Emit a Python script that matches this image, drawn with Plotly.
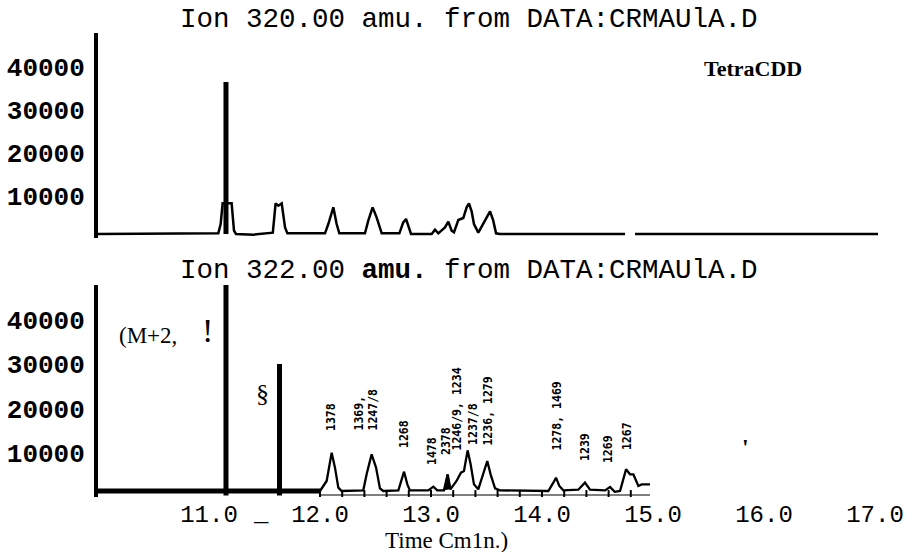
import plotly.graph_objects as go

# ---------------- data ----------------
time_ticks = [11.0, 12.0, 13.0, 14.0, 15.0, 16.0, 17.0]
time_tick_labels = ["11.0", "12.0", "13.0", "14.0", "15.0", "16.0", "17.0"]
abund_ticks = [10000, 20000, 30000, 40000]
abund_tick_labels = ["10000", "20000", "30000", "40000"]

# Ion 320.00 chromatogram (time in min, abundance)
ion320_time = [10.0, 11.084, 11.105, 11.120, 11.123, 11.204, 11.210, 11.225, 11.243,
               11.40, 11.575, 11.600, 11.625, 11.655, 11.685, 11.706,
               12.045, 12.075, 12.120, 12.150, 12.174,
               12.405, 12.435, 12.474, 12.510, 12.556,
               12.715, 12.750, 12.775, 12.800, 12.820,
               13.006, 13.036, 13.066, 13.126, 13.156, 13.186, 13.207,
               13.246, 13.291, 13.321, 13.342, 13.366, 13.387, 13.426,
               13.486, 13.532, 13.561, 13.586, 13.620, 14.748,
               None, 14.838, 17.027]
ion320_abund = [0, 155, 2325, 6600, 7130, 7130, 4650, 775, 0,
                -150, 300, 7130, 6590, 7130, 1550, 155,
                155, 2325, 6200, 2325, 155,
                155, 3100, 6200, 3875, 155,
                155, 2710, 3490, 1550, 0,
                0, 1010, 155, 1550, 2870, 775, 390,
                3255, 3720, 6200, 7130, 5270, 2325, 310,
                3100, 5270, 3100, 155, 0, 0,
                None, 0, 0]

# Ion 322.00 chromatogram
ion322_time = [12.0, 12.060, 12.105, 12.135, 12.165, 12.195,
               12.390, 12.420, 12.465, 12.505, 12.540, 12.570,
               12.706, 12.730, 12.757, 12.787, 12.810,
               12.976, 13.021, 13.057, 13.117, 13.150, 13.175,
               13.230, 13.270, 13.297, 13.330, 13.357, 13.387, 13.426,
               13.471, 13.507, 13.537, 13.577, 13.620,
               14.057, 14.102, 14.126, 14.156, 14.192,
               14.327, 14.387, 14.432, 14.568, 14.613, 14.655, 14.703,
               14.757, 14.793, 14.823, 14.868, 14.898, 14.973]
ion322_abund = [0, 2260, 8650, 5270, 750, 0,
                150, 3760, 8280, 5270, 600, 0,
                150, 2260, 4360, 1500, 150,
                150, 980, 150, 150, 3760, 380,
                2260, 4140, 4510, 9180, 6020, 1500, 380,
                3760, 6770, 3760, 600, 150,
                0, 1880, 3010, 1130, 150,
                300, 1880, 300, 150, 900, -200, 0,
                4890, 3760, 3760, 1130, 1500, 1500]

# filled (black) peak in Ion 322 trace
filled_peak_time = [13.117, 13.150, 13.175]
filled_peak_abund = [150, 3760, 380]

# vertical marker bars (time, height)
top_bar_time = [11.153]
top_bar_height = [35350]
bottom_bar_time = [11.153, 11.635]
bottom_bar_height = [46500, 28670]

# thick baseline segment of Ion 322 panel
thick_base_time = [10.0, 12.0]
thick_base_abund = [0, 0]

# scanned time-axis ticks under Ion 322 peaks
scan_axis_time = [12.0, 14.973]
scan_tick_time = [12.0, 12.2, 12.4, 12.6, 12.8, 13.0, 13.2, 13.4, 13.6, 13.8,
                  14.0, 14.2, 14.4, 14.6, 14.8]

# peak labels (congener numbers)
peak_labels = ["1378", "1369,<br>1247/8", "1268", "1478", "2378", "1246/9, 1234",
               "1237/8", "1236, 1279", "1278, 1469", "1239", "1269", "1267"]
peak_label_time = [12.099, 12.41, 12.757, 13.009, 13.135, 13.234,
                   13.378, 13.514, 14.135, 14.387, 14.595, 14.766]
peak_label_abund = [13090, 13090, 9255, 5420, 7670, 8800,
                    9930, 9710, 8800, 6320, 5870, 8800]

# ---------------- figure ----------------
W, H = 920, 552


def fy(ypix):
    return (H - ypix) / H


def fx(xpix):
    return (xpix - 98) / 780


BLACK = "#000000"
fig = go.Figure()

# top panel (xaxis2 / yaxis2)
fig.add_trace(go.Scatter(x=ion320_time, y=ion320_abund, mode="lines",
                         line=dict(color=BLACK, width=2.5), connectgaps=False,
                         xaxis="x2", yaxis="y2", hoverinfo="skip"))
for t, h in zip(top_bar_time, top_bar_height):
    fig.add_trace(go.Scatter(x=[t, t], y=[0, h], mode="lines",
                             line=dict(color=BLACK, width=5),
                             xaxis="x2", yaxis="y2", hoverinfo="skip"))

# bottom panel (xaxis / yaxis)
fig.add_trace(go.Scatter(x=scan_axis_time, y=[-900, -900], mode="lines",
                         line=dict(color=BLACK, width=1.2), hoverinfo="skip"))
fig.add_trace(go.Scatter(x=scan_tick_time, y=[-900] * len(scan_tick_time), mode="markers",
                         marker=dict(symbol="line-ns", size=7,
                                     line=dict(color=BLACK, width=2)),
                         hoverinfo="skip"))
fig.add_trace(go.Scatter(x=thick_base_time, y=thick_base_abund, mode="lines",
                         line=dict(color=BLACK, width=5), hoverinfo="skip"))
fig.add_trace(go.Scatter(x=ion322_time, y=ion322_abund, mode="lines",
                         line=dict(color=BLACK, width=2.3), hoverinfo="skip"))
fig.add_trace(go.Scatter(x=filled_peak_time, y=filled_peak_abund, mode="lines",
                         fill="toself", fillcolor=BLACK,
                         line=dict(color=BLACK, width=1.5), hoverinfo="skip"))
for t, h in zip(bottom_bar_time, bottom_bar_height):
    fig.add_trace(go.Scatter(x=[t, t], y=[-1000, h], mode="lines",
                             line=dict(color=BLACK, width=5), hoverinfo="skip"))

mono_bold = dict(family="Liberation Mono, Courier New, monospace", size=26,
                 color=BLACK, weight="bold")
mono = dict(family="Liberation Mono, Courier New, monospace", size=24, color=BLACK)
serif = "Liberation Serif, Times New Roman, serif"

annotations = []
for txt, t, v in zip(peak_labels, peak_label_time, peak_label_abund):
    annotations.append(dict(x=t, y=v, xref="x", yref="y", text=txt, showarrow=False,
                            textangle=-90, xanchor="center", yanchor="bottom",
                            align="left",
                            font=dict(family="DejaVu Sans Mono, monospace", size=11.5,
                                      color=BLACK, weight="bold")))

annotations += [
    dict(x=fx(469), y=fy(19), xref="paper", yref="paper",
         text="Ion 320.00 amu. from DATA:CRMAUlA.D", showarrow=False,
         xanchor="center", yanchor="middle",
         font=dict(family="Liberation Mono, Courier New, monospace", size=27.5, color=BLACK)),
    dict(x=fx(469), y=fy(270), xref="paper", yref="paper",
         text="Ion 322.00 <b>amu.</b> from DATA:CRMAUlA.D", showarrow=False,
         xanchor="center", yanchor="middle",
         font=dict(family="Liberation Mono, Courier New, monospace", size=27.5, color=BLACK)),
    dict(x=fx(753), y=fy(68), xref="paper", yref="paper",
         text="<b>TetraCDD</b>", showarrow=False, xanchor="center", yanchor="middle",
         font=dict(family=serif, size=22, color=BLACK)),
    dict(x=fx(446), y=fy(540), xref="paper", yref="paper",
         text="Time Cm1n.)", showarrow=False, xanchor="center", yanchor="middle",
         font=dict(family=serif, size=23, color=BLACK)),
    dict(x=fx(261), y=fy(514), xref="paper", yref="paper",
         text="_", showarrow=False, xanchor="center", yanchor="middle", font=mono),
    dict(x=10.45, y=35210, xref="x", yref="y", text="(M+2,", showarrow=False,
         xanchor="center", yanchor="middle", font=dict(family=serif, size=23, color=BLACK)),
    dict(x=10.99, y=36340, xref="x", yref="y", text="!", showarrow=False,
         xanchor="center", yanchor="middle", font=dict(family=serif, size=34, color=BLACK)),
    dict(x=11.486, y=21900, xref="x", yref="y", text="§", showarrow=False,
         xanchor="center", yanchor="middle", font=dict(family=serif, size=26, color=BLACK)),
    dict(x=15.83, y=9930, xref="x", yref="y", text="<b>'</b>", showarrow=False,
         xanchor="center", yanchor="middle", font=dict(family=serif, size=24, color=BLACK)),
]

fig.update_layout(
    width=W, height=H,
    margin=dict(l=98, r=W - 98 - 780, t=0, b=0, autoexpand=False),
    paper_bgcolor="white", plot_bgcolor="white",
    showlegend=False,
    annotations=annotations,
    xaxis=dict(domain=[0, 1], anchor="y", range=[10.0, 17.027], automargin=False,
               tickvals=time_ticks, ticktext=time_tick_labels, tickfont=mono,
               showgrid=False, zeroline=False, showline=False, ticks=""),
    yaxis=dict(domain=[fy(497), fy(285)], anchor="x",
               range=[-1354, 46501], automargin=False,
               tickvals=abund_ticks, ticktext=abund_tick_labels, tickfont=mono_bold,
               showgrid=False, zeroline=False, showline=True, linewidth=4,
               linecolor=BLACK, ticks="", ticklabelshift=6, ticklabelstandoff=4),
    xaxis2=dict(domain=[0, 1], anchor="y2", range=[10.0, 17.027], matches="x",
                automargin=False,
                showticklabels=False, showgrid=False, zeroline=False,
                showline=False, ticks=""),
    yaxis2=dict(domain=[fy(238), fy(33)], anchor="x2",
                range=[-930, 46744], automargin=False,
                tickvals=abund_ticks, ticktext=abund_tick_labels, tickfont=mono_bold,
                showgrid=False, zeroline=False, showline=True, linewidth=4,
                linecolor=BLACK, ticks="", ticklabelshift=5, ticklabelstandoff=4),
)

# the page's default body margin would offset the figure by 8px; remove it
fig.write_html("out.html",
               config={"displayModeBar": False},
               post_script="document.body.style.margin='0px';")
